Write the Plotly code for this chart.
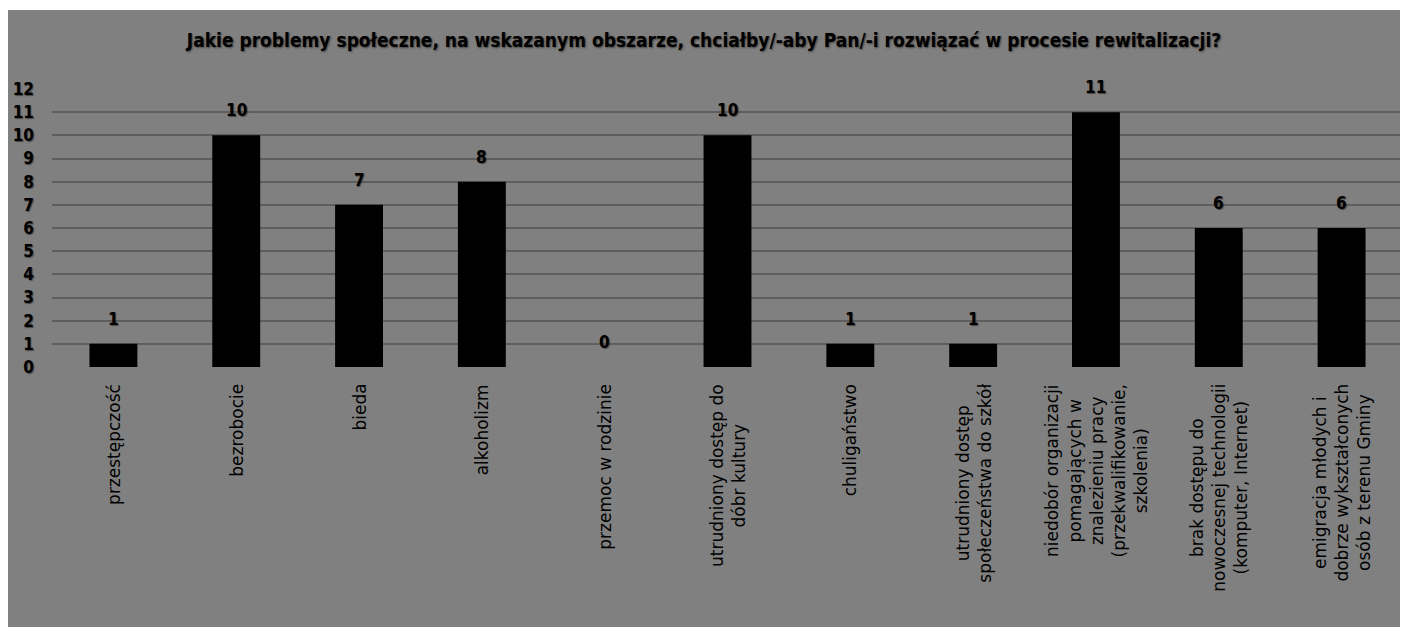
import plotly.graph_objects as go

categories = [
    "przestępczość",
    "bezrobocie",
    "bieda",
    "alkoholizm",
    "przemoc w rodzinie",
    "utrudniony dostęp do<br>dóbr kultury",
    "chuligaństwo",
    "utrudniony dostęp<br>społeczeństwa do szkół",
    "niedobór organizacji<br>pomagających w<br>znalezieniu pracy<br>(przekwalifikowanie,<br>szkolenia)",
    "brak dostępu do<br>nowoczesnej technologii<br>(komputer, Internet)",
    "emigracja młodych i<br>dobrze wykształconych<br>osób z terenu Gminy",
]
values = [1, 10, 7, 8, 0, 10, 1, 1, 11, 6, 6]
y_ticks = list(range(0, 13))
title_text = "Jakie problemy społeczne, na wskazanym obszarze, chciałby/-aby Pan/-i rozwiązać w procesie rewitalizacji?"

# page body adds an 8px margin; figure overflows slightly so grey reaches the window edges
W, H = 1408, 627
ML, MR, MT, MB = 44, 13, 81, 268
PW, PH = W - ML - MR, H - MT - MB

COND = "DejaVu Sans Condensed"
GRAY = "#808080"

x_idx = list(range(len(categories)))

fig = go.Figure()
fig.add_trace(go.Bar(
    x=x_idx, y=values,
    marker=dict(color="#000000", line=dict(width=0)),
    hoverinfo="skip",
))

annotations = []
for i, v in zip(x_idx, values):
    annotations.append(dict(
        x=i, y=v, xref="x", yref="y", text=str(v), showarrow=False,
        yanchor="bottom", yshift=13,
        font=dict(family=COND, size=17, color="#000000",
                  weight="bold", shadow="1px 1px 1px rgba(0,0,0,0.45)"),
    ))
for i, c in zip(x_idx, categories):
    annotations.append(dict(
        x=i, y=0, xref="x", yref="paper", text=c, showarrow=False,
        textangle=-90, align="center", yanchor="top", xanchor="center",
        yshift=-15,
        font=dict(family="DejaVu Sans", size=17, color="#000000"),
    ))

shapes = [dict(
    type="rect", xref="paper", yref="paper", layer="below",
    x0=-(ML + 2) / PW, x1=(W - ML + 2) / PW,
    y0=(H - MB - 2) / PH, y1=(H - MB + 2) / PH,
    fillcolor="#ffffff", line=dict(width=0),
)]

fig.update_layout(
    width=W, height=H,
    margin=dict(l=ML, r=MR, t=MT, b=MB, pad=0, autoexpand=False),
    paper_bgcolor=GRAY,
    plot_bgcolor="rgba(0,0,0,0)",
    showlegend=False,
    bargap=0.61,
    title=dict(
        text=title_text, x=696 / W, xanchor="center", xref="container",
        y=1 - 32 / H, yanchor="middle",
        font=dict(family=COND, size=19, color="#000000", weight="bold",
                  shadow="1px 1px 2px rgba(0,0,0,0.5)"),
    ),
    xaxis=dict(
        tickmode="array", tickvals=x_idx, ticktext=[""] * len(x_idx),
        range=[-0.5, len(categories) - 0.5], automargin=False,
        showgrid=False, zeroline=False, showline=False, ticks="",
    ),
    yaxis=dict(
        range=[0, 12], tickmode="array", tickvals=y_ticks,
        ticktext=[str(t) for t in y_ticks], automargin=False,
        showgrid=True, gridcolor="#5e5e5e", gridwidth=1.5,
        zeroline=False, showline=False, ticks="",
        ticklabelstandoff=17,
        tickfont=dict(family=COND, size=17, color="#000000", weight="bold",
                      shadow="1px 1px 1px rgba(0,0,0,0.45)"),
    ),
    annotations=annotations,
    shapes=shapes,
)

fig.write_html("out.html")
